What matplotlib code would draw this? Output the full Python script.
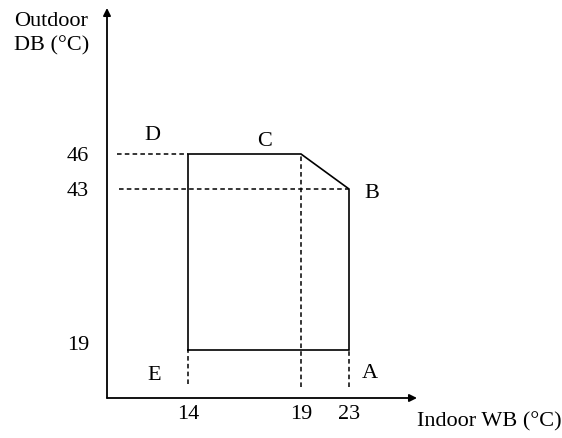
import numpy as np
import matplotlib
matplotlib.use("Agg")
import matplotlib.pyplot as plt
from matplotlib.scale import FuncScale
import matplotlib.transforms as mtransforms

plt.rcParams['font.family'] = ['Liberation Serif', 'DejaVu Serif']

# ---- data ----
x_ticks = [14, 19, 23]
y_ticks = [19, 43, 46]
point_labels = ["E", "D", "C", "B", "A"]
wb_values = [14, 14, 19, 23, 23]   # indoor WB of E, D, C, B, A
db_values = [19, 46, 46, 43, 19]   # outdoor DB of E, D, C, B, A
x_label = "Indoor WB (°C)"
y_label = "Outdoor\nDB (°C)"

# non-uniform axis scales of the original drawing (value -> layout units)
x_break_val = [10, 14, 19, 23, 28]
x_break_pos = [0, 81, 194, 242, 310]
y_break_val = [14, 19, 43, 46, 60]
y_break_pos = [0, 48, 209, 244, 390]

FS = 16
W, H = 562, 438
fig = plt.figure(figsize=(W / 100, H / 100), dpi=100)
ax = fig.add_axes([107 / W, 40 / H, 310 / W, 390 / H])
ax.patch.set_alpha(0)

ax.set_xscale(FuncScale(ax, (lambda v: np.interp(v, x_break_val, x_break_pos),
                             lambda p: np.interp(p, x_break_pos, x_break_val))))
ax.set_yscale(FuncScale(ax, (lambda v: np.interp(v, y_break_val, y_break_pos),
                             lambda p: np.interp(p, y_break_pos, y_break_val))))
ax.set_xlim(x_break_val[0], x_break_val[-1])
ax.set_ylim(y_break_val[0], y_break_val[-1])

for s in ax.spines.values():
    s.set_visible(False)

# axes with arrows
arrow_kw = dict(arrowstyle='-|>', color='black', lw=1.3, mutation_scale=11,
                shrinkA=0, shrinkB=0)
ax.annotate("", xy=(0, 1), xytext=(0, 0), xycoords='axes fraction',
            arrowprops=arrow_kw, annotation_clip=False)
ax.annotate("", xy=(1, 0), xytext=(0, 0), xycoords='axes fraction',
            arrowprops=arrow_kw, annotation_clip=False)

# operating range polygon
px = wb_values + [wb_values[0]]
py = db_values + [db_values[0]]
ax.plot(px, py, color='black', lw=1.2, solid_joinstyle='miter', clip_on=False)

# dashed guide lines
dash_kw = dict(color='black', lw=1.1, dashes=(3.0, 2.1), clip_on=False)
tx = ax.get_yaxis_transform()  # x in axes fraction, y in data
ty = ax.get_xaxis_transform()  # x in data, y in axes fraction

def x_frac(v):
    return ax.transAxes.inverted().transform(ax.transData.transform((v, y_break_val[0])))[0]

def y_frac(v):
    return ax.transAxes.inverted().transform(ax.transData.transform((x_break_val[0], v)))[1]

# horizontal at 46 (to D) and 43 (to B)
ax.plot([0.031, x_frac(wb_values[1])], [db_values[1], db_values[1]], transform=tx, **dash_kw)
ax.plot([0.039, x_frac(wb_values[3])], [db_values[3], db_values[3]], transform=tx, **dash_kw)
# vertical dashed below the polygon
ax.plot([wb_values[0], wb_values[0]], [0.035, y_frac(db_values[0])], transform=ty, **dash_kw)
ax.plot([wb_values[2], wb_values[2]], [0.027, y_frac(db_values[2])], transform=ty, **dash_kw)
ax.plot([wb_values[4], wb_values[4]], [0.029, y_frac(db_values[4])], transform=ty, **dash_kw)

# point letters
offsets = {"E": (-34, -25), "D": (-36, 18), "C": (-36, 13), "B": (23, -5), "A": (21, -24)}
for lab, xv, yv in zip(point_labels, wb_values, db_values):
    ax.annotate(lab, xy=(xv, yv), xytext=offsets[lab], textcoords='offset pixels',
                ha='center', va='center', fontsize=FS, annotation_clip=False)

# ticks
ax.set_xticks(x_ticks)
ax.set_xticklabels([str(v) for v in x_ticks])
ax.set_yticks(y_ticks)
ax.set_yticklabels([str(v) for v in y_ticks])
ax.xaxis.set_minor_locator(matplotlib.ticker.NullLocator())
ax.yaxis.set_minor_locator(matplotlib.ticker.NullLocator())
ax.tick_params(axis='both', length=0, labelsize=FS)
ax.tick_params(axis='x', pad=5)
ax.tick_params(axis='y', pad=13)
for t in ax.get_yticklabels():
    if t.get_text() == "19":
        t.set_transform(t.get_transform() + mtransforms.ScaledTranslation(0, 7 / 100, fig.dpi_scale_trans))

# axis titles
fig.text(14 / W, 1 - 12 / H, y_label, ha='left', va='top', fontsize=FS, linespacing=1.38)
fig.text(417 / W, 1 - 422 / H, x_label, ha='left', va='center', fontsize=FS)

fig.savefig("out.png", dpi=100)
